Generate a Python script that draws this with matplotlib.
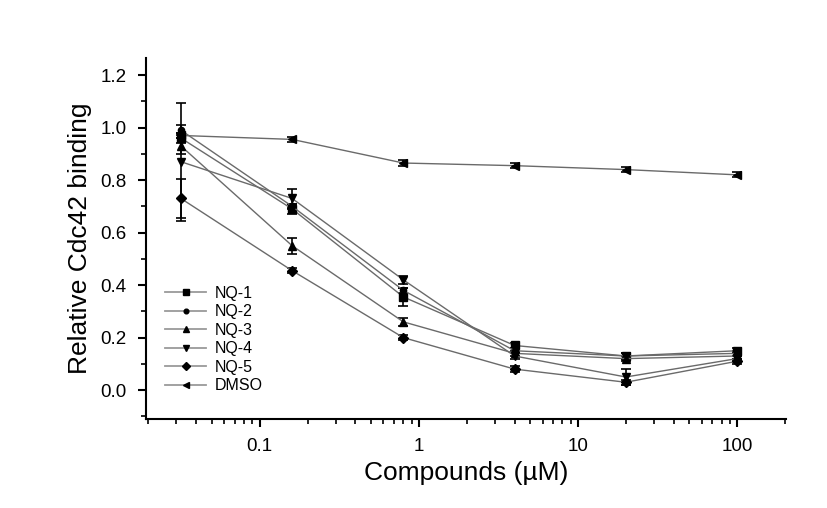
import matplotlib
matplotlib.use("Agg")
import matplotlib.pyplot as plt
from matplotlib.lines import Line2D
from matplotlib.ticker import LogLocator, MultipleLocator, FixedLocator, FixedFormatter, NullFormatter

plt.rcParams['font.family'] = ['Liberation Sans', 'DejaVu Sans']

conc = [0.032, 0.16, 0.8, 4, 20, 100]
series_names = ["NQ-1", "NQ-2", "NQ-3", "NQ-4", "NQ-5", "DMSO"]
nq1 = [0.96, 0.69, 0.355, 0.17, 0.13, 0.15]
nq2 = [0.99, 0.70, 0.38, 0.15, 0.13, 0.14]
nq3 = [0.93, 0.55, 0.26, 0.14, 0.12, 0.13]
nq4 = [0.87, 0.73, 0.42, 0.13, 0.05, 0.12]
nq5 = [0.73, 0.455, 0.20, 0.08, 0.03, 0.11]
dmso = [0.97, 0.955, 0.865, 0.855, 0.84, 0.82]
err1 = [0.02, 0.02, 0.035, 0.01, 0.01, 0.01]
err2 = [0.02, 0.01, 0.01, 0.01, 0.01, 0.01]
err3 = [0.03, 0.03, 0.015, 0.01, 0.01, 0.01]
err4 = [0.225, 0.035, 0.015, 0.01, 0.03, 0.01]
err5 = [0.075, 0.01, 0.01, 0.01, 0.01, 0.01]
errd = [0.01, 0.01, 0.01, 0.01, 0.01, 0.01]
xtick_vals = [0.1, 1, 10, 100]
xtick_labels = ["0.1", "1", "10", "100"]

values = [nq1, nq2, nq3, nq4, nq5, dmso]
errors = [err1, err2, err3, err4, err5, errd]
markers = ["s", "o", "^", "v", "D", "<"]
msizes = [5.5, 4.5, 6, 6, 5.5, 6]

fig = plt.figure(figsize=(8.27, 5.08), dpi=100)
ax = fig.add_axes([0.1765, 0.1752, 0.9504 - 0.1765, 0.8858 - 0.1752])

handles = []
for name, v, e, m, ms in zip(series_names, values, errors, markers, msizes):
    ax.errorbar(conc, v, yerr=e, color="#6a6a6a", lw=1.0, marker=m, ms=ms,
                mfc="black", mec="black", ecolor="black", elinewidth=1.2,
                capsize=3.5, capthick=1.2)
    handles.append(Line2D([], [], color="#9a9a9a", lw=1.3, marker=m, ms=ms * 0.75,
                          mfc="black", mec="black", label=name))

ax.set_xscale("log")
ax.set_xlim(0.0193, 203)
ax.set_ylim(-0.11, 1.265)

ax.xaxis.set_major_locator(FixedLocator(xtick_vals))
ax.xaxis.set_major_formatter(FixedFormatter(xtick_labels))
ax.xaxis.set_minor_locator(LogLocator(base=10, subs=range(2, 10)))
ax.xaxis.set_minor_formatter(NullFormatter())
ax.yaxis.set_major_locator(MultipleLocator(0.2))
ax.yaxis.set_minor_locator(MultipleLocator(0.1))
ax.yaxis.set_major_formatter(plt.FuncFormatter(lambda v, p: f"{v:.1f}"))

for s in ["top", "right"]:
    ax.spines[s].set_visible(False)
for s in ["left", "bottom"]:
    ax.spines[s].set_linewidth(1.5)

ax.tick_params(which="major", direction="out", length=6, width=1.5, labelsize=13.5, pad=8)
ax.tick_params(which="minor", direction="out", length=3.5, width=1.2)

ax.set_xlabel("Compounds (µM)", fontsize=19, labelpad=4)
ax.set_ylabel("Relative Cdc42 binding", fontsize=19, labelpad=6)

leg = ax.legend(handles=handles, loc="lower left", bbox_to_anchor=(0.012, 0.04), frameon=False,
                fontsize=11.5, handlelength=2.6, labelspacing=0.22, handletextpad=0.5,
                borderaxespad=0.3)

fig.savefig("out.png", dpi=100)
